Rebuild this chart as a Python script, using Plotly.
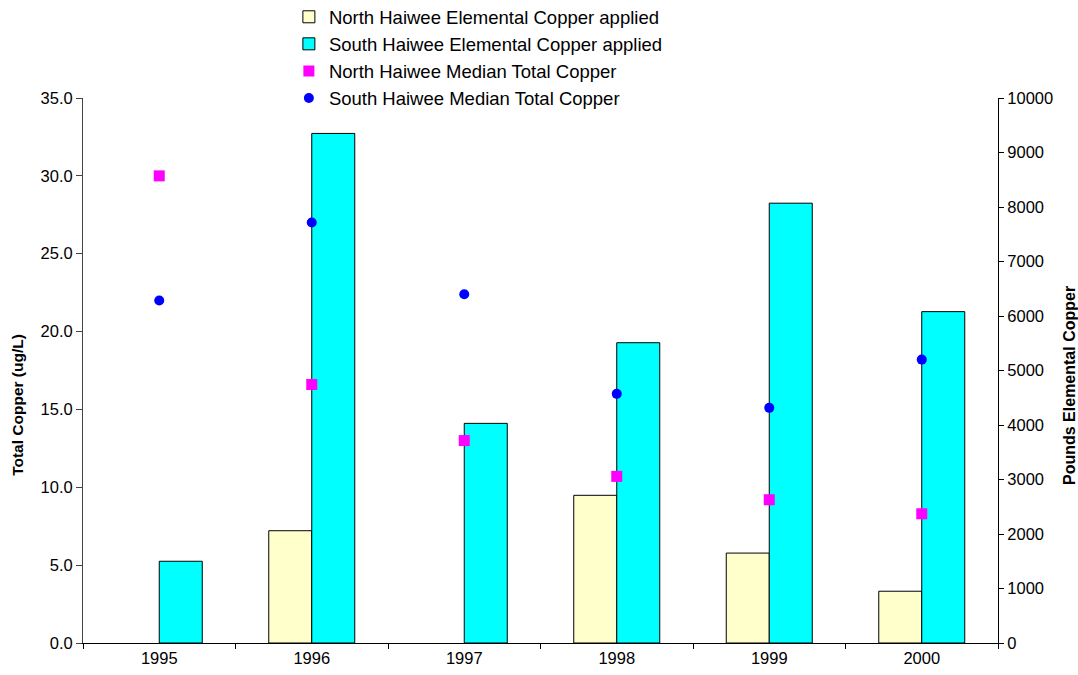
import plotly.graph_objects as go

years = ["1995", "1996", "1997", "1998", "1999", "2000"]
north_applied = [None, 2060, None, 2710, 1650, 950]
south_applied = [1500, 9350, 4030, 5510, 8070, 6080]
north_median = [30.0, 16.6, 13.0, 10.7, 9.2, 8.3]
south_median = [22.0, 27.0, 22.4, 16.0, 15.1, 18.2]

FONT = "Arial, Liberation Sans, sans-serif"

fig = go.Figure()
fig.add_trace(go.Bar(x=years, y=north_applied, name="North Haiwee Elemental Copper applied",
                     marker=dict(color="#FFFFCC", line=dict(color="#000000", width=1)),
                     yaxis="y"))
fig.add_trace(go.Bar(x=years, y=south_applied, name="South Haiwee Elemental Copper applied",
                     marker=dict(color="#00FFFF", line=dict(color="#000000", width=1)),
                     yaxis="y"))
fig.add_trace(go.Scatter(x=years, y=north_median, name="North Haiwee Median Total Copper",
                         mode="markers", marker=dict(symbol="square", size=11, color="#FF00FF"),
                         yaxis="y2"))
fig.add_trace(go.Scatter(x=years, y=south_median, name="South Haiwee Median Total Copper",
                         mode="markers", marker=dict(symbol="circle", size=10, color="#0000FF"),
                         yaxis="y2"))

fig.update_layout(
    width=1078, height=675,
    margin=dict(l=83, r=80, t=98, b=32, autoexpand=False),
    paper_bgcolor="white", plot_bgcolor="white",
    font=dict(family=FONT, size=16, color="#000000"),
    barmode="group", bargap=0.436, bargroupgap=0,
    showlegend=True,
    legend=dict(x=0.225, y=1.183, xanchor="left", yanchor="top",
                font=dict(family=FONT, size=18.5, color="#000000"),
                bgcolor="rgba(0,0,0,0)", tracegroupgap=0, itemwidth=30),
    xaxis=dict(type="category", showline=True, linecolor="#000000", linewidth=1,
               ticks="outside", tickson="boundaries", ticklen=5, tickcolor="#000000",
               showgrid=False, tickfont=dict(size=16.5), mirror=False),
    yaxis=dict(side="right", range=[0, 10000], dtick=1000, tickformat="d", showline=True,
               linecolor="#000000", linewidth=1, ticks="outside", ticklen=5, tickcolor="#000000",
               showgrid=False, zeroline=False, tickfont=dict(size=16.5)),
    yaxis2=dict(side="left", overlaying="y", range=[0, 35], dtick=5, tickformat=".1f",
                showline=True, linecolor="#444444", linewidth=1, ticks="outside", ticklen=6,
                tickcolor="#444444", showgrid=False, zeroline=False, tickfont=dict(size=16.5)),
    annotations=[
        dict(text="<b>Total Copper (ug/L)</b>", xref="paper", yref="paper",
             x=-0.071, y=0.437, xanchor="center", yanchor="middle", textangle=-90,
             showarrow=False, font=dict(family=FONT, size=15.5, color="#000000")),
        dict(text="<b>Pounds Elemental Copper</b>", xref="paper", yref="paper",
             x=1.0787, y=0.4716, xanchor="center", yanchor="middle", textangle=-90,
             showarrow=False, font=dict(family=FONT, size=16, color="#000000")),
    ],
)

fig.write_html("out.html", config={"displayModeBar": False},
               post_script="document.body.style.margin='0';document.body.style.overflow='hidden';")
